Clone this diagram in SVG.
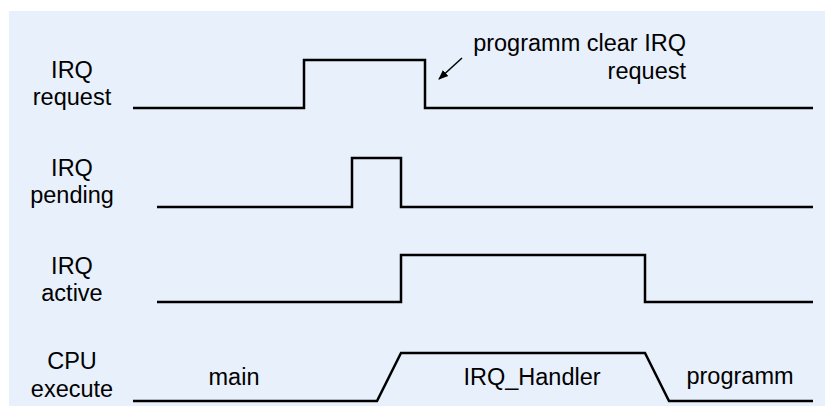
<svg xmlns="http://www.w3.org/2000/svg" width="825" height="416" viewBox="0 0 825 416">
<defs>
<style>
.bg{fill:#E8F0FB}
.sig{fill:none;stroke:#000;stroke-width:2.5;stroke-linejoin:miter}
.lbl{font-family:"Liberation Sans",Arial,sans-serif;font-size:23.5px;fill:#000;text-anchor:middle}
.ann{font-family:"Liberation Sans",Arial,sans-serif;font-size:23.5px;fill:#000;text-anchor:end}
.arr{fill:none;stroke:#000;stroke-width:1.5}
</style>
<marker id="ah" markerWidth="10" markerHeight="10" refX="9" refY="5" orient="auto" markerUnits="userSpaceOnUse">
<path d="M0,1 L10,5 L0,9 Z" fill="#000"/>
</marker>
</defs>
<rect class="bg" x="9" y="11" width="816" height="395"/>
<g id="label-request">
<text class="lbl" x="72" y="78">IRQ</text>
<text class="lbl" x="72" y="105">request</text>
</g>
<g id="label-pending">
<text class="lbl" x="72" y="176">IRQ</text>
<text class="lbl" x="72" y="203">pending</text>
</g>
<g id="label-active">
<text class="lbl" x="72" y="274">IRQ</text>
<text class="lbl" x="72" y="301">active</text>
</g>
<g id="label-cpu">
<text class="lbl" x="72" y="369">CPU</text>
<text class="lbl" x="72" y="397">execute</text>
</g>
<g id="connectors">
<path id="sig-request" class="sig" d="M133,108 H304 V60 H425 V108 H813"/>
<path id="sig-pending" class="sig" d="M157,207 H352 V158 H401 V207 H813"/>
<path id="sig-active" class="sig" d="M157,302 H401 V255 H645 V302 H813"/>
<path id="sig-cpu" class="sig" d="M133,401 H377 L401,353 H645 L669,401 H813"/>
<line class="arr" x1="462" y1="58" x2="439" y2="79" marker-end="url(#ah)"/>
</g>
<g id="annotation">
<text class="ann" x="686" y="51">programm clear IRQ</text>
<text class="ann" x="686" y="79">request</text>
</g>
<g id="cpu-states">
<text class="lbl" x="234" y="385">main</text>
<text class="lbl" x="532" y="385">IRQ_Handler</text>
<text class="lbl" x="740" y="384">programm</text>
</g>
</svg>
